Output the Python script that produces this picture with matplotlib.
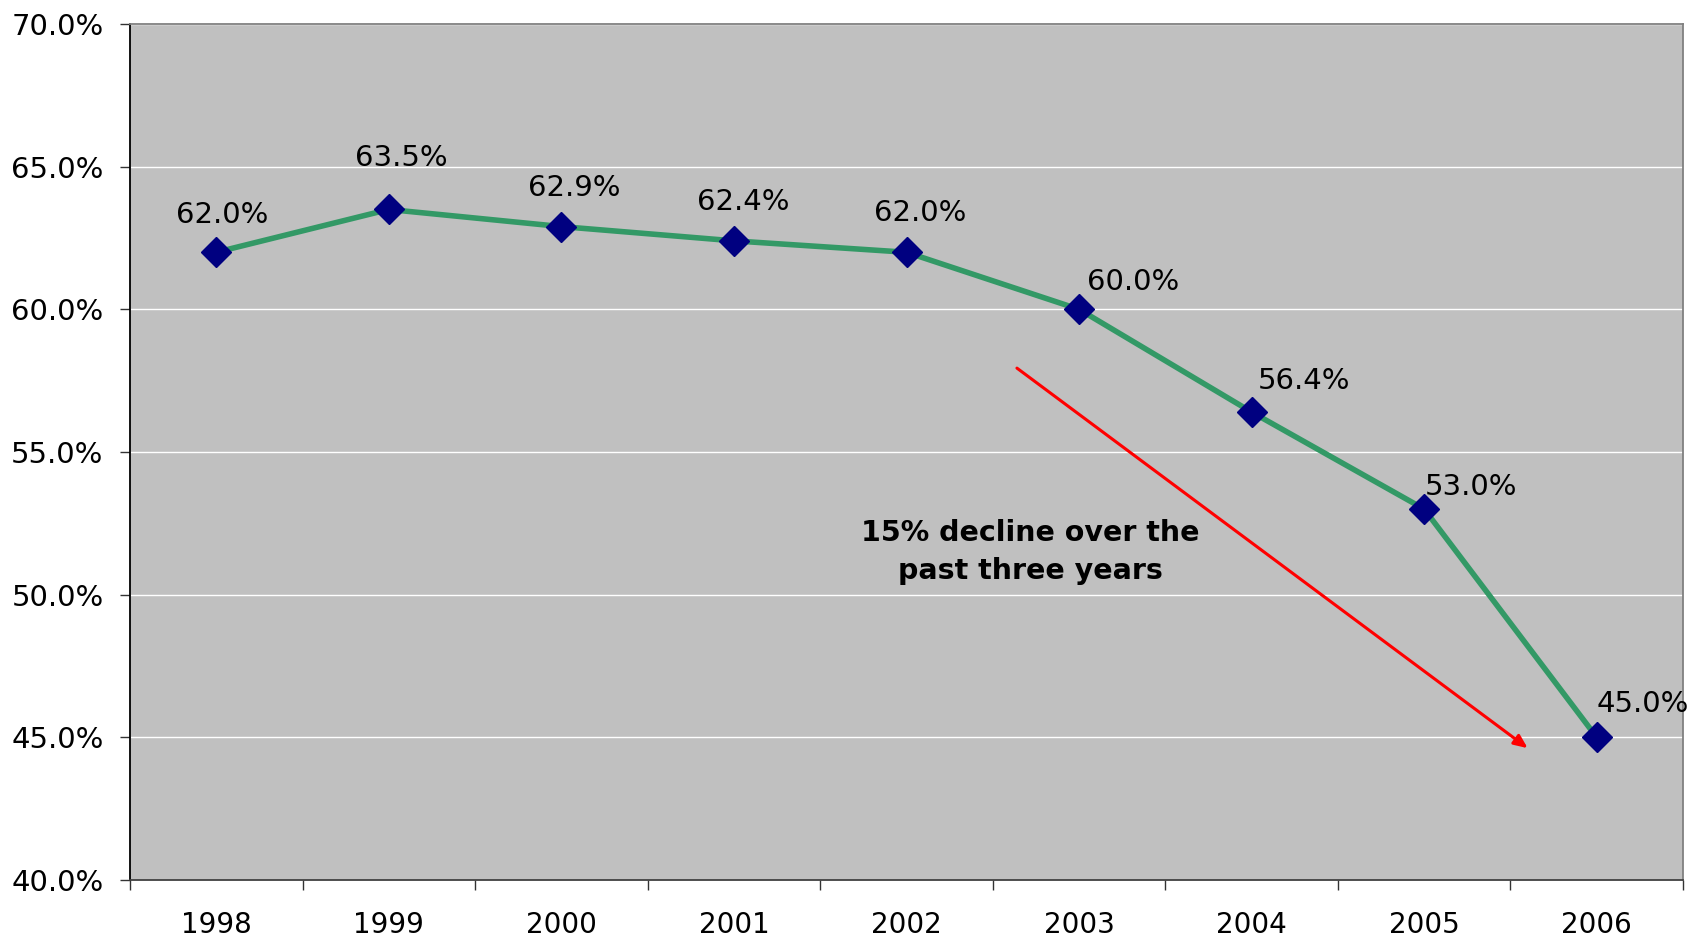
import matplotlib
matplotlib.use("Agg")
import matplotlib.pyplot as plt
from matplotlib.ticker import FixedLocator, FuncFormatter

years = ["1998", "1999", "2000", "2001", "2002", "2003", "2004", "2005", "2006"]
rates = [62.0, 63.5, 62.9, 62.4, 62.0, 60.0, 56.4, 53.0, 45.0]
y_ticks = [40, 45, 50, 55, 60, 65, 70]
note_text = "15% decline over the\npast three years"

# label offsets (points) from each marker
label_offsets = [(4, 27), (9, 37), (9, 28), (7, 28), (10, 28),
                 (39, 20), (38, 22), (34, 16), (33, 24)]

plt.rcParams['font.family'] = ['DejaVu Sans']

fig = plt.figure(figsize=(16.96, 9.39), dpi=100)
ax = fig.add_axes([130 / 1696, 1 - 880 / 939, 1553 / 1696, 856 / 939])
ax.set_facecolor("#C0C0C0")

x = list(range(len(years)))
ax.set_xlim(-0.5, len(years) - 0.5)
ax.set_ylim(40, 70)

ax.set_yticks(y_ticks)
ax.yaxis.set_major_formatter(FuncFormatter(lambda v, p: f"{v:.1f}%"))
ax.grid(axis="y", color="white", linewidth=1.0, zorder=1)
ax.set_axisbelow(True)

ax.set_xticks(x)
ax.set_xticklabels(years)
ax.xaxis.set_minor_locator(FixedLocator([i - 0.5 for i in range(len(years) + 1)]))
ax.tick_params(axis="x", which="major", length=0, pad=22, labelsize=20)
ax.tick_params(axis="x", which="minor", length=7, width=1, color="#333333")
ax.tick_params(axis="y", length=7, width=1, pad=12, labelsize=21, color="#333333")

ax.spines["left"].set_color("black")
ax.spines["bottom"].set_color("#404040")
ax.spines["top"].set_color("#808080")
ax.spines["right"].set_color("#808080")
for s in ax.spines.values():
    s.set_linewidth(1.3)

ax.plot(x, rates, color="#339966", linewidth=4.0, zorder=3,
        marker="D", markersize=15.5, markerfacecolor="#000080",
        markeredgecolor="#000080", solid_capstyle="round")

for xi, v, (dx, dy) in zip(x, rates, label_offsets):
    ax.annotate(f"{v:.1f}%", (xi, v), xytext=(dx, dy), textcoords="offset points",
                ha="center", va="center", fontsize=21, color="black", zorder=4)

ax.annotate("", xy=(7.60, 44.62), xytext=(4.64, 57.94),
            arrowprops=dict(arrowstyle="-|>,head_length=0.8,head_width=0.35",
                            color="#FF0000", linewidth=2.2, shrinkA=0, shrinkB=0),
            zorder=2)

ax.text(4.72, 51.5, note_text, ha="center", va="center", fontsize=20.5,
        fontweight="bold", linespacing=1.45, color="black", zorder=4)

fig.savefig("out.png", dpi=100)
